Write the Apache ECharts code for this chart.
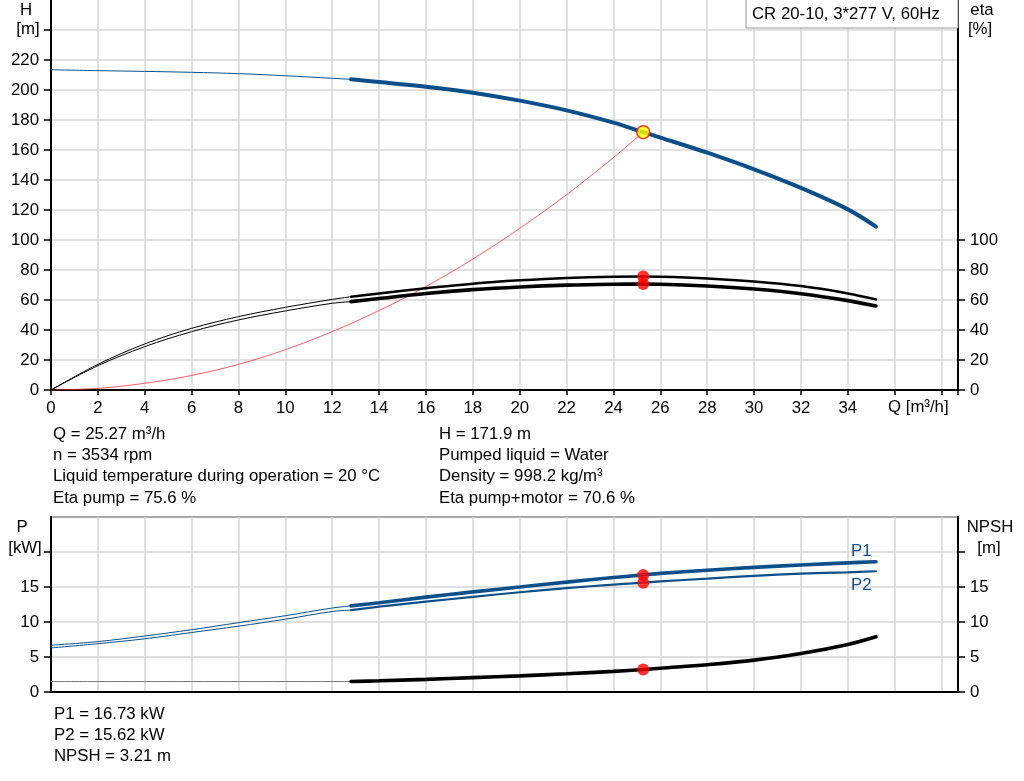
<!DOCTYPE html>
<html>
<head>
<meta charset="utf-8">
<script src="https://cdn.jsdelivr.net/npm/echarts@6/dist/echarts.min.js"></script>
<style>
html,body{margin:0;padding:0;background:#fff;}
#chart{width:1024px;height:781px;}
</style>
</head>
<body>
<div id="chart"></div>
<script>
// ---- data ----
const qLow = [0, 2, 4, 6, 8, 10, 12, 12.8];
const qHigh = [12.8, 14, 16, 18, 20, 22, 24, 25.27, 26, 28, 30, 32, 34, 35.2];
const qSys = [0, 2, 4, 6, 8, 10, 12, 14, 16, 18, 20, 22, 24, 25.27];

const headLow = [213.5, 212.9, 212.4, 211.8, 210.9, 209.5, 207.8, 207.1];
const headHigh = [207.1, 205.3, 202.2, 198.2, 192.9, 186.4, 178.2, 171.9, 168.3, 158.2, 147.1, 134.7, 120.4, 108.9];
const systemHead = [0, 1.1, 4.5, 9.7, 17.1, 26.9, 38.9, 53.0, 69.0, 87.3, 107.8, 130.2, 155.0, 171.9];

const etaPumpLow = [0, 17.1, 30.7, 41.1, 48.9, 55.1, 60.4, 62.2];
const etaPumpHigh = [62.2, 64.4, 67.8, 70.9, 73.1, 74.7, 75.5, 75.6, 75.5, 74.4, 72.4, 69.3, 64.4, 60.4];
const etaTotalLow = [0, 16.2, 28.9, 38.9, 46.7, 52.7, 57.8, 58.9];
const etaTotalHigh = [58.9, 61.0, 64.3, 66.9, 68.7, 69.9, 70.5, 70.6, 70.5, 69.3, 67.3, 64.2, 59.6, 56.0];

const p1Low = [6.68, 7.2, 8.0, 8.9, 9.9, 10.9, 12.0, 12.3];
const p1High = [12.3, 12.75, 13.55, 14.3, 15.0, 15.7, 16.35, 16.73, 16.95, 17.4, 17.8, 18.15, 18.45, 18.6];
const p2Low = [6.3, 6.9, 7.6, 8.5, 9.4, 10.4, 11.5, 11.7];
const p2High = [11.7, 12.2, 12.9, 13.6, 14.25, 14.85, 15.35, 15.62, 15.8, 16.2, 16.6, 16.9, 17.1, 17.25];
const npshLow = [1.5, 1.5, 1.5, 1.5, 1.5, 1.5, 1.5, 1.5];
const npshHigh = [1.5, 1.6, 1.8, 2.05, 2.3, 2.6, 2.95, 3.21, 3.4, 3.9, 4.55, 5.5, 6.8, 7.9];

const dutyQ = 25.27;
const dutyH = 171.9;
const dutyEta = [75.6, 70.6];
const dutyP = [16.73, 15.62];
const dutyNpsh = 3.21;

const hTicksShown = [0, 20, 40, 60, 80, 100, 120, 140, 160, 180, 200, 220];
const hTicksAll = [0, 20, 40, 60, 80, 100, 120, 140, 160, 180, 200, 220, 240];
const etaTicks = [0, 20, 40, 60, 80, 100];
const pTicksShown = [0, 5, 10, 15];
const npshTicks = [0, 5, 10, 15, 20];

const titleText = 'CR 20-10, 3*277 V, 60Hz';
const infoLeft = ['Q = 25.27 m³/h', 'n = 3534 rpm', 'Liquid temperature during operation = 20 °C', 'Eta pump = 75.6 %'];
const infoRight = ['H = 171.9 m', 'Pumped liquid = Water', 'Density = 998.2 kg/m³', 'Eta pump+motor = 70.6 %'];
const infoBottom = ['P1 = 16.73 kW', 'P2 = 15.62 kW', 'NPSH = 3.21 m'];

// ---- helpers ----
const FONT = '"Liberation Sans", Arial, sans-serif';
const FS = 16.8;
const BLUE = '#0b4f8a';
const zip = (xs, ys) => xs.map((x, i) => [x, ys[i]]);

function line(name, xs, ys, xi, yi, color, width, z) {
  return {
    name, type: 'line', xAxisIndex: xi, yAxisIndex: yi,
    data: zip(xs, ys), showSymbol: false, smooth: 0.35,
    lineStyle: { color, width, cap: 'round' }, z: z || 2, silent: true, animation: false
  };
}

const chart = echarts.init(document.getElementById('chart'), null, { renderer: 'canvas' });

const axisLabelStyle = { color: '#000', fontSize: FS, fontFamily: FONT };
const gridLine = { show: true, lineStyle: { color: '#d6d6d6', width: 1.5 } };

function textEl(str, x, y, align, vAlign) {
  return {
    type: 'text', x, y, silent: true, z: 100,
    style: { text: str, font: FS + 'px ' + FONT, fill: '#000', align: align || 'left', verticalAlign: vAlign || 'middle' }
  };
}

const graphics = [];
graphics.push({ type: 'rect', shape: { x: 746, y: -1, width: 212, height: 29 }, style: { fill: '#fff', stroke: '#9a9a9a', lineWidth: 1 }, z: 99, silent: true });
graphics.push(textEl(titleText, 752, 14));
graphics.push(textEl('H', 26, 10, 'center'));
graphics.push(textEl('[m]', 28, 29, 'center'));
graphics.push(textEl('eta', 982, 10, 'center'));
graphics.push(textEl('[%]', 980, 29, 'center'));
graphics.push(textEl('Q [m³/h]', 888, 407));
graphics.push(textEl('P', 22, 527, 'center'));
graphics.push(textEl('[kW]', 25, 548, 'center'));
graphics.push(textEl('NPSH', 990, 527, 'center'));
graphics.push(textEl('[m]', 989, 548, 'center'));
graphics.push({ type: 'text', x: 851, y: 551, z: 100, silent: true, style: { text: 'P1', font: FS + 'px ' + FONT, fill: BLUE, verticalAlign: 'middle' } });
graphics.push({ type: 'text', x: 851, y: 585, z: 100, silent: true, style: { text: 'P2', font: FS + 'px ' + FONT, fill: BLUE, verticalAlign: 'middle' } });
const infoY = [434, 455, 476, 498];
infoLeft.forEach((t, i) => graphics.push(textEl(t, 53, infoY[i])));
infoRight.forEach((t, i) => graphics.push(textEl(t, 439, infoY[i])));
const botY = [714, 735, 756];
infoBottom.forEach((t, i) => graphics.push(textEl(t, 54, botY[i])));

const option = {
  animation: false,
  backgroundColor: '#fff',
  grid: [
    { left: 51, right: 66, top: 0, height: 390, show: false },
    { left: 51, right: 66, top: 517, height: 175, show: true, borderColor: '#a8a8a8', borderWidth: 2, backgroundColor: 'transparent' }
  ],
  xAxis: [
    {
      gridIndex: 0, type: 'value', min: 0, max: 38.7, interval: 2,
      axisLine: { show: true, onZero: false, lineStyle: { color: '#000', width: 2 } },
      axisTick: { show: true, length: 5, lineStyle: { color: '#000', width: 1.5 } },
      axisLabel: Object.assign({ margin: 10, formatter: v => (v <= 34 ? String(v) : '') }, axisLabelStyle),
      splitLine: gridLine
    },
    {
      gridIndex: 1, type: 'value', min: 0, max: 38.7, interval: 2,
      axisLine: { show: true, onZero: false, lineStyle: { color: '#000', width: 2 } },
      axisTick: { show: false },
      axisLabel: { show: false },
      splitLine: gridLine
    }
  ],
  yAxis: [
    {
      gridIndex: 0, type: 'value', position: 'left', min: 0, max: 260, interval: 20,
      axisLine: { show: true, lineStyle: { color: '#000', width: 2 } },
      axisTick: { show: true, length: 7, customValues: hTicksAll, lineStyle: { color: '#000', width: 1.5 } },
      axisLabel: Object.assign({ margin: 12, customValues: hTicksShown }, axisLabelStyle),
      splitLine: gridLine
    },
    {
      gridIndex: 0, type: 'value', position: 'right', min: 0, max: 260, interval: 20,
      axisLine: { show: true, lineStyle: { color: '#000', width: 2 } },
      axisTick: { show: true, length: 7, customValues: etaTicks, lineStyle: { color: '#000', width: 1.5 } },
      axisLabel: Object.assign({ margin: 12, customValues: etaTicks }, axisLabelStyle),
      splitLine: { show: false }
    },
    {
      gridIndex: 1, type: 'value', position: 'left', min: 0, max: 25, interval: 5,
      axisLine: { show: true, lineStyle: { color: '#000', width: 2 } },
      axisTick: { show: true, length: 7, customValues: npshTicks, lineStyle: { color: '#000', width: 1.5 } },
      axisLabel: Object.assign({ margin: 12, customValues: pTicksShown }, axisLabelStyle),
      splitLine: gridLine
    },
    {
      gridIndex: 1, type: 'value', position: 'right', min: 0, max: 25, interval: 5,
      axisLine: { show: true, lineStyle: { color: '#000', width: 2 } },
      axisTick: { show: true, length: 7, customValues: npshTicks, lineStyle: { color: '#000', width: 1.5 } },
      axisLabel: Object.assign({ margin: 12, customValues: pTicksShown }, axisLabelStyle),
      splitLine: { show: false }
    }
  ],
  graphic: graphics,
  series: [
    line('system', qSys, systemHead, 0, 0, 'rgba(255,40,40,0.75)', 1, 2),
    line('H low', qLow, headLow, 0, 0, BLUE, 1, 3),
    line('H high', qHigh, headHigh, 0, 0, BLUE, 4, 3),
    line('eta pump low', qLow, etaPumpLow, 0, 1, '#000', 1, 3),
    line('eta pump high', qHigh, etaPumpHigh, 0, 1, '#000', 2.5, 3),
    line('eta total low', qLow, etaTotalLow, 0, 1, '#000', 1, 3),
    line('eta total high', qHigh, etaTotalHigh, 0, 1, '#000', 3.6, 3),
    line('P1 low', qLow, p1Low, 1, 2, BLUE, 1, 3),
    line('P1 high', qHigh, p1High, 1, 2, BLUE, 3.6, 3),
    line('P2 low', qLow, p2Low, 1, 2, BLUE, 1, 3),
    line('P2 high', qHigh, p2High, 1, 2, BLUE, 2.2, 3),
    line('NPSH low', qLow, npshLow, 1, 3, '#777', 1, 3),
    line('NPSH high', qHigh, npshHigh, 1, 3, '#000', 3.6, 3),
    {
      type: 'scatter', xAxisIndex: 0, yAxisIndex: 0, data: [[dutyQ, dutyH]], symbolSize: 13, z: 10, silent: true,
      itemStyle: { color: '#ffff00', borderColor: '#ff0000', borderWidth: 1.5 }
    },
    {
      type: 'scatter', xAxisIndex: 0, yAxisIndex: 1, data: dutyEta.map(v => [dutyQ, v]), symbolSize: 12, z: 10, silent: true,
      itemStyle: { color: '#ff0000' }
    },
    {
      type: 'scatter', xAxisIndex: 1, yAxisIndex: 2, data: dutyP.map(v => [dutyQ, v]), symbolSize: 12, z: 10, silent: true,
      itemStyle: { color: '#ff0000' }
    },
    {
      type: 'scatter', xAxisIndex: 1, yAxisIndex: 3, data: [[dutyQ, dutyNpsh]], symbolSize: 12, z: 10, silent: true,
      itemStyle: { color: '#ff0000' }
    }
  ]
};
chart.setOption(option);
</script>
</body>
</html>
